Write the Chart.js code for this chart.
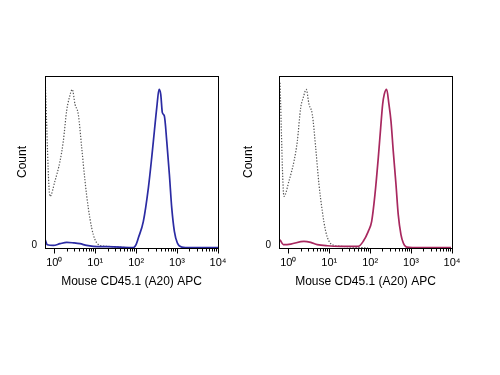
<!DOCTYPE html>
<html><head><meta charset="utf-8">
<script src="https://cdn.jsdelivr.net/npm/chart.js@4.4.1/dist/chart.umd.min.js"></script>
<style>
html,body{margin:0;padding:0;background:#fff;width:500px;height:375px;overflow:hidden}
canvas{position:absolute;top:0}
#c1{left:0}
#c2{left:238px}
</style></head><body>
<canvas id="c1" width="240" height="375"></canvas>
<canvas id="c2" width="262" height="375"></canvas>
<script>
// ---- text ----
const xTitle = 'Mouse CD45.1 (A20) APC';
const yTitle = 'Count';
const decadeLabels = ['10⁰', '10¹', '10²', '10³', '10⁴'];
const yTickLabels = ['0'];

// ---- left panel: isotype control (dotted) ----
const isoLeftX = [0.6, 0.785, 1.04, 1.38, 1.66, 2.01, 2.33, 2.75, 3.21, 3.86, 4.68, 5.64, 6.78, 8.2, 9.89, 13.1, 19.1, 40.4, 94];
const isoLeftY = [97, 30, 39, 50.5, 62, 80, 87.4, 92.2, 83.5, 77.7, 58.3, 38.8, 23.3, 11.7, 4.8, 1.5, 1.0, 0.5, 0];

// ---- left panel: stained (blue) ----
const blueX = [0.6, 0.675, 0.946, 1.38, 2.01, 2.92, 4.25, 6.19, 8.99, 19.1, 40.4, 85.5, 99.5, 113, 150, 199, 240, 279, 319, 363, 399, 437, 489, 560, 649, 741, 859, 1016, 1303, 2080, 10000];
const blueY = [4.8, 1.9, 1.5, 2.5, 3.3, 3.0, 2.5, 1.5, 1.0, 0.8, 0.5, 0.3, 2.0, 5.8, 15.5, 35, 52.5, 68, 81.6, 92.2, 89.3, 78.7, 76.7, 62, 42.7, 23.3, 9.7, 2.9, 0.5, 0.2, 0.2];

// ---- right panel: isotype control (dotted) ----
const isoRightX = [0.627, 0.785, 1.04, 1.38, 1.66, 2.01, 2.32, 2.75, 3.21, 3.86, 4.67, 5.62, 6.78, 8.2, 9.86, 13.1, 19.1, 40.3, 88.5];
const isoRightY = [96, 30, 39, 50.5, 62, 81.6, 87.4, 92.2, 83.5, 77.7, 58.3, 37, 21.3, 9.7, 4.0, 1.5, 1.0, 0.5, 0];

// ---- right panel: stained (magenta) ----
const pinkX = [0.627, 0.755, 1.15, 2.42, 3.53, 5.11, 8.97, 19.1, 40.3, 51.3, 67.9, 90.1, 109, 131, 158, 181, 202, 221, 253, 288, 323, 367, 428, 486, 566, 646, 782, 1652, 9440];
const pinkY = [4.8, 2.0, 2.3, 3.9, 3.3, 2.0, 1.3, 1.0, 1.0, 1.0, 3.9, 9.7, 15.5, 31, 52.4, 70, 83.5, 89.3, 92.2, 83.5, 73.8, 56.3, 36.9, 19.4, 7.8, 2.9, 0.5, 0.2, 0.2];

const xMin = Math.pow(10, -0.227);
const xMax = 10000;
const yMax = 100;

const FONT = '"Liberation Sans", Arial, sans-serif';

function pts(xs, ys) { return xs.map((x, i) => ({ x: x, y: ys[i] })); }

function logTicks() {
  const out = [];
  for (let e = 0; e < 4; e++) {
    for (let m = 1; m <= 9; m++) out.push({ value: Number((m * Math.pow(10, e)).toPrecision(6)) });
  }
  out.push({ value: 10000 });
  return out;
}

const framePlugin = {
  id: 'frame',
  afterDraw(chart) {
    const { ctx, chartArea: a, scales } = chart;
    const x = scales.x;
    ctx.save();
    ctx.strokeStyle = '#000';
    ctx.lineWidth = 1;
    const L = Math.round(a.left) + 0.5, T = Math.round(a.top) + 0.5;
    const R = Math.round(a.right) + 0.5, B = Math.round(a.bottom) + 0.5;
    ctx.strokeRect(L, T, R - L, B - T);
    ctx.beginPath();
    x.ticks.forEach(t => {
      const px = Math.round(x.getPixelForValue(t.value)) + 0.5;
      const e = Math.log10(t.value);
      const len = Math.abs(e - Math.round(e)) < 1e-6 ? 5 : 3;
      ctx.moveTo(px, B);
      ctx.lineTo(px, B + len);
    });
    ctx.stroke();
    ctx.restore();
  }
};

function makeChart(id, isoX, isoY, stX, stY, color, yAxisWidth, titlePad, padRight) {
  return new Chart(document.getElementById(id), {
    type: 'line',
    data: {
      datasets: [
        {
          data: pts(stX, stY),
          borderColor: color,
          borderWidth: 1.7,
          pointRadius: 0,
          fill: false,
          cubicInterpolationMode: 'monotone'
        },
        {
          data: pts(isoX, isoY),
          borderColor: '#555',
          borderWidth: 1.2,
          borderDash: [1.3, 1.6],
          pointRadius: 0,
          fill: false,
          cubicInterpolationMode: 'monotone'
        }
      ]
    },
    options: {
      responsive: false,
      animation: false,
      devicePixelRatio: 1,
      layout: { padding: { top: 76, bottom: 86, left: 0, right: padRight } },
      plugins: { legend: { display: false }, tooltip: { enabled: false } },
      scales: {
        x: {
          type: 'logarithmic',
          min: xMin,
          max: xMax,
          grid: { display: false, drawTicks: false },
          border: { display: false },
          afterBuildTicks: s => { s.ticks = logTicks(); },
          afterFit: s => { s.height = 41; },
          ticks: {
            autoSkip: false,
            maxRotation: 0,
            minRotation: 0,
            padding: 8,
            color: '#000',
            font: { family: FONT, size: 11 },
            callback: v => {
              const e = Math.log10(v);
              return Math.abs(e - Math.round(e)) < 1e-6 ? decadeLabels[Math.round(e)] : '';
            }
          },
          title: {
            display: true,
            text: xTitle,
            color: '#000',
            font: { family: FONT, size: 12 },
            padding: { top: 0, bottom: 0 }
          }
        },
        y: {
          min: 0,
          max: yMax,
          grid: { display: false, drawTicks: false },
          border: { display: false },
          afterBuildTicks: s => { s.ticks = [{ value: 0 }]; },
          afterFit: s => { s.width = yAxisWidth; },
          ticks: {
            padding: 8,
            labelOffset: -3,
            color: '#000',
            font: { family: FONT, size: 10 },
            callback: (v, i) => yTickLabels[i]
          },
          title: {
            display: true,
            text: yTitle,
            color: '#000',
            font: { family: FONT, size: 12 },
            padding: { top: titlePad, bottom: 0 }
          }
        }
      }
    },
    plugins: [framePlugin]
  });
}

makeChart('c1', isoLeftX, isoLeftY, blueX, blueY, '#2b2ba3', 45, 15.3, 22);
makeChart('c2', isoRightX, isoRightY, pinkX, pinkY, '#a8285f', 41, 3.8, 48);
</script>
</body></html>
